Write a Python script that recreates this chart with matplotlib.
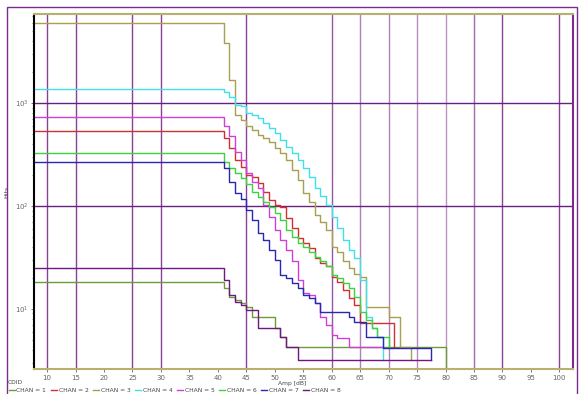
import matplotlib
matplotlib.use('Agg')
import matplotlib.pyplot as plt
from matplotlib.patches import Rectangle
from matplotlib.ticker import LogLocator, NullFormatter

# Cumulative hits vs amplitude, one step curve per channel
ch1_amp = [7, 41, 42, 43, 44, 45, 46, 50, 51, 52, 80]
ch1_hits = [18.3, 16, 13.1, 12.2, 11.4, 10.4, 8.4, 6.5, 5.3, 4.3, 1]

ch2_amp = [7] + list(range(41, 72))
ch2_hits = [535, 457, 365, 280, 239, 200, 191, 167, 137, 114, 102, 98, 76, 61, 49, 44,
            39, 31, 28, 26, 20.5, 18.3, 15.3, 12.8, 10.9, 7.3, 7.3, 7.3, 7.3, 7.3, 7.3, 4.3]

ch3_amp = [7] + list(range(41, 75))
ch3_hits = [6000, 3830, 1670, 764, 684, 598, 547, 489, 457, 418, 365, 327, 280, 224, 179,
            134, 109, 82, 70, 58, 40, 36, 29, 25, 22, 20.5, 10.4, 10.4, 10.4, 10.4, 8.4,
            8.4, 4.3, 4.3, 3.2]

ch4_amp = [7] + list(range(41, 70))
ch4_hits = [1370, 1280, 1143, 957, 936, 800, 764, 714, 639, 572, 512, 437, 374, 327, 280,
            234, 191, 150, 125, 102, 78, 61, 47, 37, 31, 19.1, 8.4, 6.5, 5.3, 3.2]

ch5_amp = [7] + list(range(41, 70))
ch5_hits = [731, 598, 478, 334, 280, 209, 171, 150, 102, 78, 58, 47, 37, 29, 19.1, 14.3,
            13.7, 11.4, 8.4, 7.0, 5.6, 5.2, 5.2, 4.3, 4.3, 4.3, 4.3, 4.3, 4.3, 4.3]

ch6_amp = [7] + list(range(41, 71))
ch6_hits = [327, 267, 234, 209, 187, 164, 137, 122, 109, 98, 85, 73, 58, 50, 44, 40, 36,
            32, 29, 26, 21.4, 20, 17.9, 16, 13.1, 9.3, 7.8, 6.5, 5.3, 5.3, 4.3]

ch7_amp = [7] + list(range(41, 70)) + [77.5]
ch7_hits = [267, 234, 171, 134, 117, 91, 73, 55, 47, 37, 30, 21.4, 20, 17.9, 16, 13.7,
            12.8, 11.4, 9.3, 9.3, 9.3, 9.3, 9.3, 8.4, 7.5, 7.5, 5.3, 5.3, 5.3, 4.2, 3.2]

ch8_amp = [7, 41, 42, 43, 44, 45, 47, 51, 52, 54, 77.5]
ch8_hits = [25, 19.1, 13.7, 11.7, 10.9, 9.8, 6.5, 5.3, 4.3, 3.2, 3.2]

labels = ['CHAN = 1', 'CHAN = 2', 'CHAN = 3', 'CHAN = 4',
          'CHAN = 5', 'CHAN = 6', 'CHAN = 7', 'CHAN = 8']
colors = ['#6f9a3a', '#d03030', '#a8a050', '#40e0e8',
          '#d040d8', '#40d040', '#2828b0', '#701880']

grid_x = [10, 15, 25, 30, 45, 60, 65, 70, 75, 80, 85, 90, 100]
grid_x_alpha = [0.9, 0.9, 0.9, 0.9, 0.9, 0.8, 0.6, 0.6, 0.55, 0.5, 0.7, 0.9, 0.9]
grid_y = [100, 1000]

fig = plt.figure(figsize=(5.8, 3.94), dpi=100)
ax = fig.add_axes([34/580, 1 - 369/394, (573 - 34)/580, (369 - 14)/394])

for gx, a in zip(grid_x, grid_x_alpha):
    ax.axvline(gx, color='#7b2c8b', lw=1.0, alpha=a, zorder=1)
for gy in grid_y:
    ax.axhline(gy, color='#6a2080', lw=1.0, zorder=1)

series = [(ch1_amp, ch1_hits), (ch2_amp, ch2_hits), (ch3_amp, ch3_hits), (ch4_amp, ch4_hits),
          (ch5_amp, ch5_hits), (ch6_amp, ch6_hits), (ch7_amp, ch7_hits), (ch8_amp, ch8_hits)]
for (a, h), c, lab in zip(series, colors, labels):
    ax.plot(a, h, drawstyle='steps-post', color=c, lw=1.0, label=lab, zorder=2)

ax.set_yscale('log')
ax.set_xlim(7.7, 102.4)
ax.set_ylim(2.6, 7300)

ax.set_xticks(range(10, 101, 5))
ax.set_yticks([10, 100, 1000])
ax.set_yticklabels(['$10^{1}$', '$10^{2}$', '$10^{3}$'])
ax.yaxis.set_minor_locator(LogLocator(base=10, subs=range(2, 10)))
ax.yaxis.set_minor_formatter(NullFormatter())
ax.tick_params(labelsize=5, colors='#666666', length=2, width=0.6, pad=2)
ax.tick_params(which='minor', length=1.5, width=0.5, colors='#555555')

ax.spines['left'].set_color('black')
ax.spines['left'].set_linewidth(1.5)
ax.spines['top'].set_color('#b8b070')
ax.spines['top'].set_linewidth(1.5)
ax.spines['bottom'].set_color('#b8b070')
ax.spines['bottom'].set_linewidth(1.5)
ax.spines['right'].set_color('#7b2c8b')
ax.spines['right'].set_linewidth(1.5)

ax.set_xlabel('Amp [dB]', fontsize=4.3, color='#444444')
ax.set_ylabel('Hits', fontsize=4.5, color='#444444')
ax.yaxis.set_label_coords(-0.045, 0.5)
ax.xaxis.set_label_coords(0.479, -0.033)

fig.text(8/580, 1 - 382/394, 'CDID', fontsize=4.3, color='#444444', va='center')
fig.legend(loc='center left', bbox_to_anchor=(0.015, 0.009), ncol=8, fontsize=4.3,
           frameon=False, handlelength=1.0, handletextpad=0.3, columnspacing=0.75,
           labelcolor='#444444', borderpad=0, borderaxespad=0)

fig.patches.append(Rectangle((7/580, -0.05), (577 - 7)/580, 1 - 7/394 + 0.05,
                             transform=fig.transFigure, fill=False,
                             edgecolor='#7b2c8b', lw=1.0, clip_on=False))

fig.savefig('out.png', dpi=100)
